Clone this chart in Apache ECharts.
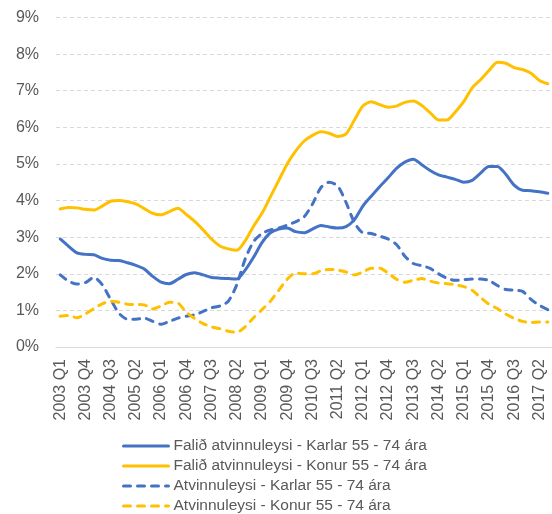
<!DOCTYPE html>
<html>
<head>
<meta charset="utf-8">
<script src="https://cdn.jsdelivr.net/npm/echarts@6/dist/echarts.min.js"></script>
<style>
  html, body { margin: 0; padding: 0; background: #fff; }
  #chart { width: 552px; height: 514px; }
</style>
</head>
<body>
<div id="chart"></div>
<script>
// ársfjórðungar 2003 Q1 - 2017 Q3
const quarters = [
  '2003 Q1', '2003 Q2', '2003 Q3', '2003 Q4', '2004 Q1', '2004 Q2', '2004 Q3', '2004 Q4',
  '2005 Q1', '2005 Q2', '2005 Q3', '2005 Q4', '2006 Q1', '2006 Q2', '2006 Q3', '2006 Q4',
  '2007 Q1', '2007 Q2', '2007 Q3', '2007 Q4', '2008 Q1', '2008 Q2', '2008 Q3', '2008 Q4',
  '2009 Q1', '2009 Q2', '2009 Q3', '2009 Q4', '2010 Q1', '2010 Q2', '2010 Q3', '2010 Q4',
  '2011 Q1', '2011 Q2', '2011 Q3', '2011 Q4', '2012 Q1', '2012 Q2', '2012 Q3', '2012 Q4',
  '2013 Q1', '2013 Q2', '2013 Q3', '2013 Q4', '2014 Q1', '2014 Q2', '2014 Q3', '2014 Q4',
  '2015 Q1', '2015 Q2', '2015 Q3', '2015 Q4', '2016 Q1', '2016 Q2', '2016 Q3', '2016 Q4',
  '2017 Q1', '2017 Q2', '2017 Q3'
]

const falidKarlar = [
  2.95, 2.75, 2.57, 2.53, 2.52, 2.42, 2.37, 2.36, 2.30, 2.23, 2.13, 1.93, 1.77, 1.73, 1.85, 1.98,
  2.03, 1.97, 1.90, 1.88, 1.87, 1.86, 2.10, 2.45, 2.85, 3.12, 3.22, 3.25, 3.15, 3.12, 3.22, 3.32,
  3.28, 3.25, 3.29, 3.48, 3.85, 4.12, 4.38, 4.62, 4.88, 5.05, 5.13, 4.98, 4.82, 4.70, 4.64, 4.58,
  4.50, 4.55, 4.75, 4.93, 4.93, 4.72, 4.42, 4.28, 4.27, 4.24, 4.20
]

const falidKonur = [
  3.77, 3.81, 3.80, 3.76, 3.74, 3.85, 3.98, 4.00, 3.97, 3.91, 3.78, 3.65, 3.61, 3.70, 3.79, 3.62,
  3.43, 3.20, 2.95, 2.76, 2.68, 2.64, 2.90, 3.30, 3.65, 4.10, 4.55, 5.00, 5.35, 5.62, 5.78, 5.88,
  5.84, 5.75, 5.82, 6.20, 6.58, 6.70, 6.62, 6.55, 6.58, 6.68, 6.72, 6.60, 6.40, 6.20, 6.20, 6.42,
  6.70, 7.08, 7.30, 7.55, 7.78, 7.75, 7.63, 7.58, 7.48, 7.28, 7.19
]

const atvKarlar = [
  1.97, 1.80, 1.72, 1.76, 1.90, 1.70, 1.30, 0.92, 0.76, 0.76, 0.79, 0.70, 0.62, 0.70, 0.79, 0.84,
  0.88, 0.97, 1.07, 1.12, 1.25, 1.70, 2.40, 2.88, 3.10, 3.20, 3.25, 3.33, 3.42, 3.55, 3.90, 4.35,
  4.50, 4.40, 3.95, 3.40, 3.12, 3.10, 3.03, 2.95, 2.80, 2.48, 2.28, 2.22, 2.15, 2.00, 1.88, 1.82,
  1.84, 1.86, 1.86, 1.82, 1.68, 1.57, 1.55, 1.52, 1.30, 1.14, 1.02
]

const atvKonur = [
  0.84, 0.86, 0.80, 0.90, 1.05, 1.18, 1.25, 1.22, 1.17, 1.16, 1.15, 1.04, 1.12, 1.22, 1.20, 0.95,
  0.78, 0.64, 0.55, 0.50, 0.43, 0.40, 0.55, 0.80, 1.02, 1.25, 1.55, 1.85, 2.02, 2.00, 2.00, 2.08,
  2.12, 2.10, 2.05, 1.97, 2.05, 2.15, 2.15, 2.02, 1.85, 1.77, 1.82, 1.87, 1.80, 1.75, 1.73, 1.70,
  1.65, 1.55, 1.35, 1.17, 1.05, 0.90, 0.78, 0.70, 0.67, 0.68, 0.68
]

const seriesNames = [
  'Falið atvinnuleysi - Karlar 55 - 74 ára',
  'Falið atvinnuleysi - Konur 55 - 74 ára',
  'Atvinnuleysi - Karlar 55 - 74 ára',
  'Atvinnuleysi - Konur 55 - 74 ára'
]

const blue = '#4472C4'
const gold = '#FFC000'
const font = 'Liberation Sans, Arial, sans-serif'

function line (name, data, color, dashed) {
  return {
    name: name,
    type: 'line',
    data: data,
    symbol: 'none',
    smooth: 0.25,
    lineStyle: {
      color: color,
      width: 3,
      type: dashed ? [7, 7] : 'solid',
      cap: 'round',
      join: 'round'
    },
    itemStyle: { color: color }
  }
}

const chart = echarts.init(document.getElementById('chart'), null, { renderer: 'canvas' })
chart.setOption({
  animation: false,
  backgroundColor: '#fff',
  grid: { left: 56, right: 0, top: 17.5, bottom: 167 },
  legend: {
    orient: 'vertical',
    left: 122,
    top: 438,
    height: 140,
    padding: 0,
    itemWidth: 45,
    itemHeight: 12,
    itemGap: 4,
    itemStyle: { opacity: 0 },
    lineStyle: { width: 3 },
    textStyle: { fontFamily: font, fontSize: 15.5, color: '#595959', lineHeight: 15 },
    data: seriesNames
  },
  xAxis: {
    type: 'category',
    data: quarters,
    boundaryGap: true,
    axisLine: { lineStyle: { color: '#D9D9D9', width: 1 } },
    axisTick: { show: false },
    axisLabel: {
      interval: 2,
      rotate: 90,
      margin: 12,
      fontFamily: font,
      fontSize: 16,
      color: '#595959'
    }
  },
  yAxis: {
    type: 'value',
    min: 0,
    max: 9,
    interval: 1,
    axisLine: { show: false },
    axisTick: { show: false },
    axisLabel: {
      formatter: '{value}%',
      margin: 17,
      fontFamily: font,
      fontSize: 16,
      color: '#595959'
    },
    splitLine: { lineStyle: { color: '#D9D9D9', type: [4, 3], width: 1 } }
  },
  series: [
    line(seriesNames[0], falidKarlar, blue, false),
    line(seriesNames[1], falidKonur, gold, false),
    line(seriesNames[2], atvKarlar, blue, true),
    line(seriesNames[3], atvKonur, gold, true)
  ]
})
</script>
</body>
</html>
